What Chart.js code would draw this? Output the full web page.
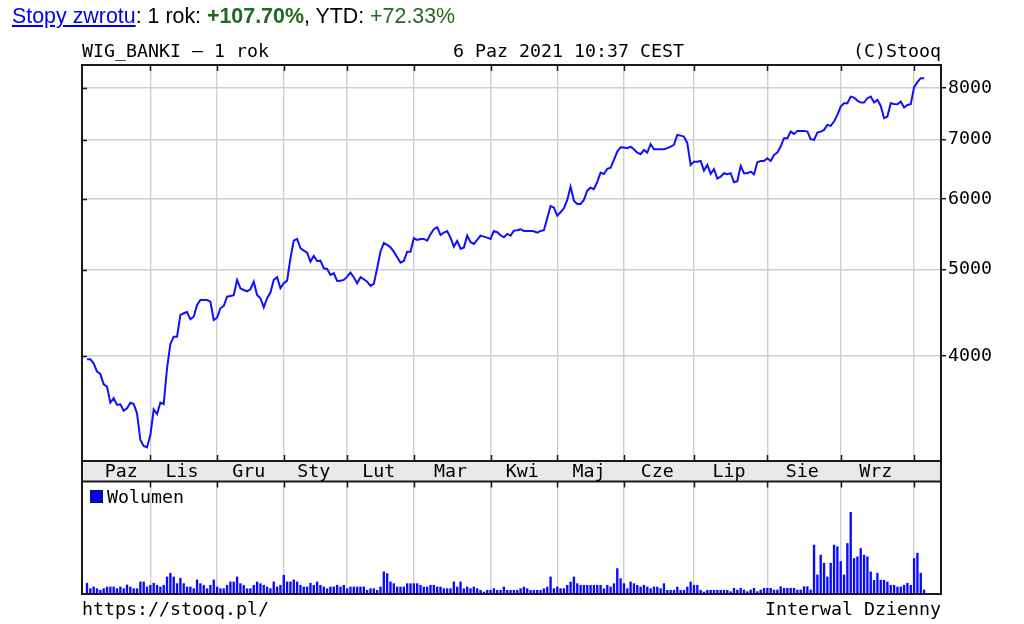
<!DOCTYPE html>
<html lang="pl">
<head>
<meta charset="utf-8">
<title>WIG_BANKI - 1 rok</title>
<script src="https://cdn.jsdelivr.net/npm/chart.js@4.4.1/dist/chart.umd.min.js"></script>
<style>
    html, body { margin: 0; padding: 0; background: #fff; }
    body { width: 1024px; height: 624px; position: relative; overflow: hidden; }
    #chart { position: absolute; left: 0; top: 0; }
    #returns {
        position: absolute; left: 12px; top: 4px;
        font: 21.4px "Liberation Sans", Arial, sans-serif; line-height: 24px;
        color: #000; white-space: nowrap;
    }
    #returns a { color: #0000ee; }
    #returns .up { color: #1e6b1e; }
</style>
</head>
<body>
<canvas id="chart" width="1024" height="624"></canvas>
<div id="returns"><a href="#">Stopy zwrotu</a>: 1 rok: <b class="up">+107.70%</b>, YTD: <span class="up">+72.33%</span></div>
<script>
/**
 * WIG_BANKI - 1 year daily chart, stooq style
 */

// Month labels and the trading-day index where each month starts (last entry = Oct 2021)
const monthNames = ['Paz', 'Lis', 'Gru', 'Sty', 'Lut', 'Mar', 'Kwi', 'Maj', 'Cze', 'Lip', 'Sie', 'Wrz'];
const monthStarts = [0, 19, 39, 59, 78, 98, 121, 141, 161, 182, 204, 226, 248];

// Right axis tick labels
const priceTicks = [4000, 5000, 6000, 7000, 8000];

// Daily close, one row per month
const closes = [
    3966, 3966, 3925, 3841, 3818, 3718, 3695, 3545, 3586, 3524, 3530, 3472, 3494, 3545, 3533, 3449, 3219, 3170, 3159,
    3261, 3485, 3443, 3545, 3533, 3875, 4126, 4205, 4205, 4448, 4467, 4482, 4398, 4428, 4564, 4623, 4623, 4623, 4603, 4390,
    4416, 4525, 4552, 4663, 4671, 4680, 4869, 4765, 4744, 4728, 4753, 4847, 4684, 4644, 4537, 4644, 4712, 4869, 4903, 4765,
    4827, 4860, 5150, 5390, 5413, 5285, 5252, 5225, 5105, 5180, 5114, 5118, 5018, 5009, 4932, 4954, 4856, 4860, 4869,
    4910, 4962, 4903, 4827, 4903, 4878, 4847, 4794, 4819, 5018, 5238, 5358, 5330, 5298, 5238, 5163, 5092, 5114, 5238, 5238,
    5423, 5399, 5413, 5413, 5390, 5479, 5551, 5580, 5469, 5502, 5526, 5432, 5307, 5385, 5279, 5293, 5460, 5367, 5344, 5399, 5460, 5446, 5432,
    5413, 5526, 5508, 5465, 5437, 5484, 5460, 5531, 5537, 5551, 5526, 5526, 5526, 5522, 5502, 5526, 5537, 5711, 5896, 5870,
    5749, 5800, 5860, 5988, 6197, 5977, 5926, 5926, 5988, 6133, 6181, 6156, 6273, 6426, 6404, 6488, 6509, 6640, 6785, 6862,
    6855, 6845, 6873, 6827, 6767, 6739, 6815, 6767, 6916, 6827, 6827, 6827, 6827, 6845, 6873, 6903, 7084, 7071, 7053, 6934, 6555,
    6611, 6611, 6623, 6459, 6555, 6404, 6483, 6327, 6360, 6416, 6399, 6416, 6268, 6284, 6538, 6416, 6416, 6442, 6399, 6601, 6623, 6623,
    6670, 6623, 6727, 6767, 6873, 7024, 7024, 7145, 7102, 7158, 7158, 7158, 7145, 7006, 6993, 7126, 7145, 7176, 7270, 7251, 7332, 7460,
    7622, 7689, 7689, 7821, 7801, 7741, 7701, 7701, 7789, 7821, 7701, 7755, 7635, 7397, 7427, 7689, 7675, 7669, 7721, 7602, 7655, 7669,
    8014, 8118, 8202, 8202
];

// Daily volume (arbitrary units), one row per month
const volumes = [
    1.07, 0.53, 0.70, 0.53, 0.37, 0.53, 0.70, 0.70, 0.70, 0.53, 0.70, 0.53, 0.90, 0.70, 0.53, 0.53, 1.20, 1.20, 0.70,
    0.87, 1.07, 0.87, 0.70, 0.87, 1.70, 2.07, 1.70, 1.03, 1.57, 1.03, 0.70, 0.70, 0.53, 1.40, 1.03, 0.87, 0.53, 0.87, 1.40,
    0.70, 0.53, 0.53, 0.87, 1.20, 1.20, 1.70, 1.03, 0.87, 0.53, 0.53, 0.87, 1.20, 1.03, 0.87, 0.70, 0.53, 1.20, 0.70, 0.87,
    1.87, 1.20, 1.20, 1.40, 1.20, 0.87, 0.70, 0.70, 1.07, 0.87, 1.20, 0.87, 0.70, 0.53, 0.70, 0.70, 0.87, 0.70, 0.87,
    0.53, 0.70, 0.70, 0.70, 0.70, 0.70, 0.37, 0.53, 0.53, 0.37, 0.70, 2.20, 2.03, 1.20, 1.03, 0.70, 0.70, 0.70, 1.03, 1.03,
    1.03, 1.03, 0.87, 0.70, 0.70, 0.87, 0.87, 0.70, 0.70, 0.53, 0.53, 0.53, 1.20, 0.70, 1.20, 0.53, 0.70, 0.53, 0.70, 0.53, 0.37, 0.20, 0.37,
    0.37, 0.53, 0.37, 0.37, 0.70, 0.37, 0.37, 0.37, 0.37, 0.53, 0.70, 0.53, 0.37, 0.37, 0.37, 0.37, 0.53, 0.70, 1.70, 0.53,
    0.70, 0.53, 0.53, 0.87, 1.20, 1.70, 1.03, 0.87, 0.87, 0.87, 0.87, 0.87, 0.87, 0.87, 0.53, 0.87, 0.70, 1.03, 2.53, 1.53,
    1.03, 0.53, 1.20, 1.03, 0.87, 0.70, 0.87, 0.70, 0.53, 0.70, 0.70, 0.53, 1.03, 0.37, 0.37, 0.37, 0.70, 0.37, 0.37, 0.70, 1.20,
    0.87, 0.87, 0.37, 0.20, 0.37, 0.37, 0.37, 0.37, 0.37, 0.37, 0.37, 0.23, 0.57, 0.40, 0.57, 0.40, 0.23, 0.40, 0.57, 0.23, 0.40, 0.57,
    0.57, 0.57, 0.40, 0.40, 0.73, 0.57, 0.57, 0.57, 0.57, 0.40, 0.40, 0.73, 0.73, 0.40, 4.87, 1.90, 3.87, 3.07, 1.70, 3.07, 4.87, 4.70,
    3.23, 1.90, 5.03, 8.13, 3.53, 3.70, 4.53, 3.87, 3.70, 2.20, 1.37, 2.07, 1.37, 1.37, 1.20, 0.87, 0.87, 0.70, 0.70, 0.87, 1.07, 0.87,
    3.53, 4.07, 2.07, 0.40
];

// Picture layout (pixels)
const FONT = '"DejaVu Sans Mono", monospace';
const FONT_SIZE = 18.3;
const PLOT = { left: 82, top: 65, right: 941, bottom: 594 };
const BAND_TOP = 461;
const BAND_BOTTOM = 481.5;
const X_MIN = -1.5;
const X_MAX = 256.07;

// Price range of the upper panel, extended on log scale down to the bottom of the plot
const PRICE_TOP = 8487;
const PRICE_AT_BAND = 3049;
const mainFrac = (BAND_TOP - PLOT.top) / (PLOT.bottom - PLOT.top);
const priceMin = Math.exp(Math.log(PRICE_TOP) - (Math.log(PRICE_TOP) - Math.log(PRICE_AT_BAND)) / mainFrac);

// Volume panel top value, extended up to the top of the plot
const VOLUME_PANEL_MAX = 11.2;
const volumeMax = VOLUME_PANEL_MAX * (PLOT.bottom - PLOT.top) / (PLOT.bottom - BAND_BOTTOM);

const GRID_COLOR = '#cfcfcf';
const FRAME_COLOR = '#1a1a1a';

/**
 * Draws the frame, month band, labels and texts around the plot
 */
const stooqFrame = {
    id: 'stooqFrame',
    afterDraw(chart) {
        const { ctx, chartArea: a, scales } = chart;
        const x = scales.x;
        const y = scales.y;

        const line = (x1, y1, x2, y2) => {
            ctx.beginPath();
            ctx.moveTo(x1, y1);
            ctx.lineTo(x2, y2);
            ctx.stroke();
        };

        ctx.save();

        // Month band
        ctx.fillStyle = '#e8e8e8';
        ctx.fillRect(a.left, BAND_TOP, a.right - a.left, BAND_BOTTOM - BAND_TOP);

        // Frame
        ctx.strokeStyle = FRAME_COLOR;
        ctx.lineWidth = 2;
        ctx.strokeRect(a.left, a.top, a.right - a.left, a.bottom - a.top);
        line(a.left, BAND_TOP, a.right, BAND_TOP);
        line(a.left, BAND_BOTTOM, a.right, BAND_BOTTOM);

        // Month ticks
        ctx.lineWidth = 1.5;
        monthStarts.slice(1).forEach(v => {
            const px = Math.round(x.getPixelForValue(v)) + 0.5;
            line(px, a.top, px, a.top + 6);
            line(px, BAND_TOP - 6, px, BAND_TOP);
            line(px, BAND_BOTTOM, px, BAND_BOTTOM + 6);
        });

        // Price ticks inside the left edge
        priceTicks.forEach(v => {
            const py = Math.round(y.getPixelForValue(v)) + 0.5;
            line(a.left, py, a.left + 5, py);
        });

        // Month labels (the first, partial month sits a little to the right)
        ctx.fillStyle = '#000';
        ctx.font = `${FONT_SIZE}px ${FONT}`;
        ctx.textAlign = 'center';
        ctx.textBaseline = 'alphabetic';
        monthNames.forEach((name, i) => {
            const mid = (monthStarts[i] + monthStarts[i + 1]) / 2 - (i === 0 ? -0.8 : 0.5);
            ctx.fillText(name, x.getPixelForValue(mid), 477);
        });

        // Header row
        ctx.textAlign = 'left';
        ctx.fillText('WIG_BANKI \u2013 1 rok', a.left, 56.5);
        ctx.fillText('6 Paz 2021 10:37 CEST', 453, 56.5);
        ctx.textAlign = 'right';
        ctx.fillText('(C)Stooq', a.right, 56.5);

        // Footer row
        ctx.textAlign = 'left';
        ctx.fillText('https://stooq.pl/', a.left, 615);
        ctx.textAlign = 'right';
        ctx.fillText('Interwal Dzienny', a.right, 615);

        // Volume legend
        ctx.fillStyle = '#0000ff';
        ctx.fillRect(91, 491, 11, 11);
        ctx.strokeStyle = FRAME_COLOR;
        ctx.lineWidth = 1;
        ctx.strokeRect(90.5, 490.5, 12, 12);
        ctx.fillStyle = '#000';
        ctx.textAlign = 'left';
        ctx.fillText('Wolumen', 107, 503);

        ctx.restore();
    }
};

/**
 * Create the price + volume chart
 */
function createWigChart() {
    const ctx = document.getElementById('chart').getContext('2d');
    return new Chart(ctx, {
        type: 'bar',
        data: {
            datasets: [{
                type: 'line',
                label: 'WIG_BANKI',
                data: closes.map((v, i) => ({ x: i, y: v })),
                yAxisID: 'y',
                borderColor: '#1010ff',
                borderWidth: 2,
                pointRadius: 0,
                tension: 0,
                fill: false
            }, {
                type: 'bar',
                label: 'Wolumen',
                data: volumes.map((v, i) => ({ x: i, y: v })),
                yAxisID: 'yv',
                backgroundColor: '#0a0aff',
                barThickness: 1.7
            }]
        },
        options: {
            responsive: false,
            animation: false,
            devicePixelRatio: 1,
            layout: {
                padding: { left: PLOT.left, top: PLOT.top, right: 0, bottom: 624 - PLOT.bottom }
            },
            plugins: {
                legend: { display: false },
                tooltip: { enabled: false }
            },
            scales: {
                x: {
                    type: 'linear',
                    min: X_MIN,
                    max: X_MAX,
                    offset: false,
                    grid: { offset: false, color: GRID_COLOR, lineWidth: 1.4, drawTicks: false },
                    border: { display: false },
                    ticks: { display: false },
                    afterBuildTicks: scale => {
                        scale.ticks = monthStarts.slice(1).map(v => ({ value: v }));
                    },
                    afterFit: scale => {
                        scale.height = 0;
                    }
                },
                y: {
                    type: 'logarithmic',
                    position: 'right',
                    min: priceMin,
                    max: PRICE_TOP,
                    grid: { color: GRID_COLOR, lineWidth: 1.4, tickLength: 5, tickColor: FRAME_COLOR, tickWidth: 1.5 },
                    border: { display: false },
                    ticks: {
                        color: '#000',
                        padding: 2,
                        autoSkip: false,
                        font: { family: FONT, size: FONT_SIZE },
                        callback: value => String(value)
                    },
                    afterBuildTicks: scale => {
                        scale.ticks = priceTicks.map(v => ({ value: v }));
                    },
                    afterFit: scale => {
                        scale.width = 1024 - PLOT.right;
                    }
                },
                yv: {
                    type: 'linear',
                    display: false,
                    min: 0,
                    max: volumeMax
                }
            }
        },
        plugins: [stooqFrame]
    });
}

createWigChart();
</script>
</body>
</html>
